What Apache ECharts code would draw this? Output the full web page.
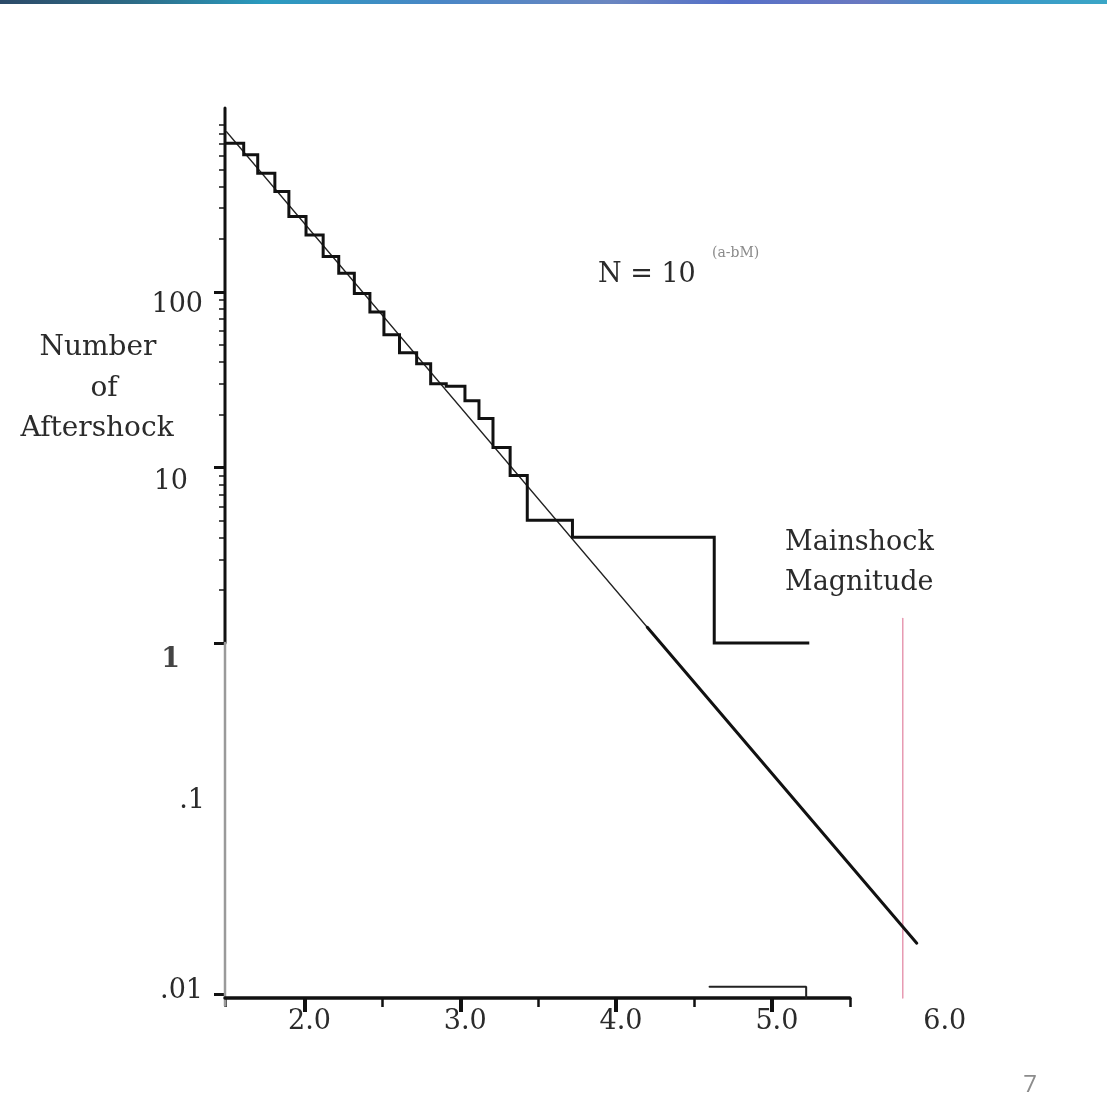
<!DOCTYPE html>
<html>
<head>
<meta charset="utf-8">
<script src="https://cdn.jsdelivr.net/npm/echarts@6/dist/echarts.min.js"></script>
<style>
  html, body { margin: 0; padding: 0; background: #ffffff; }
  #chart { width: 1107px; height: 1106px; }
</style>
</head>
<body>
<div id="chart"></div>
<script>
// Cumulative aftershock counts N(>=M): count[i] holds from binStart[i] to the next bin start
const binStart = [1.49, 1.61, 1.70, 1.81, 1.90, 2.01, 2.12, 2.22, 2.32, 2.42, 2.51,
                  2.61, 2.72, 2.81, 2.91, 3.03, 3.12, 3.21, 3.32, 3.43, 3.72, 4.63];
const counts   = [703, 604, 475, 373, 269, 211, 159, 128, 98, 77, 57,
                  45, 39, 30, 29, 24, 19, 13, 9, 5, 4, 1];
const lastMag = 5.24;

// Floor trace drawn along the .01 line
const floorMags = [4.60, 5.22, 5.22];
const floorCounts = [0.011, 0.011, 0.0095];

// Gutenberg-Richter fit, log10 N = a - bM: fitted part and extrapolated part
const fitMags = [1.50, 4.20];
const fitCounts = [818, 1.23];
const extrapMags = [4.20, 5.93];
const extrapCounts = [1.23, 0.0195];

// Mainshock magnitude marker
const mainshockMag = 5.84;
const mainshockTop = 1.38;

// Axis extents and ticks
const magMin = 1.49, magMax = 6.0, magAxisEnd = 5.5;
const nMin = 0.0095, nMax = 1117, nLowerAxisEnd = 0.0086;
const magLabels = [2, 3, 4, 5, 6];
const magMajorTicks = [2, 3, 4, 5];
const magMinorTicks = [1.49, 2.5, 3.5, 4.5, 5.5];
const nLabels = [0.01, 0.1, 1, 10, 100];
const nLabelText = ['.01', '.1', '1', '10', '100'];
const nMajorTicks = [0.01, 1, 10, 100];
const nMinorTicks = [];
[1, 10, 100].forEach(function (d) {
  for (let k = 2; k <= 9; k++) nMinorTicks.push(k * d);
});

const stepData = binStart.map(function (m, i) { return [m, counts[i]]; });
stepData.push([lastMag, counts[counts.length - 1]]);
const zip = function (xs, ys) { return xs.map(function (x, i) { return [x, ys[i]]; }); };

const serif = 'DejaVu Serif';
const ink = '#2b2b2b';

function seg(data, width, color) {
  return {
    type: 'line', data: data, symbol: 'none', clip: false, silent: true,
    xAxisIndex: 0, yAxisIndex: 0,
    lineStyle: { width: width, color: color, cap: 'round' }
  };
}

const chart = echarts.init(document.getElementById('chart'), null, { renderer: 'canvas' });

chart.setOption({
  animation: false,
  backgroundColor: '#ffffff',
  grid: { left: 225, right: 179.3, top: 108, bottom: 108 },
  xAxis: [
    {
      type: 'value', min: magMin, max: magMax, position: 'bottom',
      axisLine: { show: false }, splitLine: { show: false },
      axisTick: { show: true, customValues: magMajorTicks, length: 14, lineStyle: { width: 4, color: '#111' } },
      axisLabel: {
        customValues: magLabels, margin: 10,
        formatter: function (v) { return v >= 6 ? '{far|' + v.toFixed(1) + '}' : '{n|' + v.toFixed(1) + '}'; },
        rich: {
          n: { fontFamily: serif, fontSize: 27, color: ink, padding: [0, 0, 0, 10] },
          far: { fontFamily: serif, fontSize: 27, color: ink, padding: [0, 0, 0, 34] }
        }
      }
    },
    {
      type: 'value', min: magMin, max: magMax, position: 'bottom',
      axisLine: { show: false }, splitLine: { show: false },
      axisTick: { show: true, customValues: magMinorTicks, length: 9, lineStyle: { width: 2.5, color: '#111' } },
      axisLabel: { show: false }
    }
  ],
  yAxis: [
    {
      type: 'log', logBase: 10, min: nMin, max: nMax, position: 'left',
      axisLine: { show: false }, splitLine: { show: false },
      axisTick: { show: true, customValues: nMajorTicks, length: 11, lineStyle: { width: 3, color: '#111' } },
      axisLabel: {
        customValues: nLabels, margin: 20,
        formatter: function (v) {
          const e = Math.round(Math.log10(v));
          return '{k' + (e + 2) + '|' + nLabelText[e + 2] + '}';
        },
        rich: {
          k0: { fontFamily: serif, fontSize: 27, color: ink, padding: [0, 2, 6, 0] },
          k1: { fontFamily: serif, fontSize: 27, color: ink, padding: [0, 0, 36, 0] },
          k2: { fontFamily: serif, fontSize: 27, color: '#444', fontWeight: 'bold', padding: [34, 25, 0, 0] },
          k3: { fontFamily: serif, fontSize: 27, color: ink, padding: [28, 17, 0, 0] },
          k4: { fontFamily: serif, fontSize: 27, color: ink, padding: [26, 2, 0, 0] }
        }
      }
    },
    {
      type: 'log', logBase: 10, min: nMin, max: nMax, position: 'left',
      axisLine: { show: false }, splitLine: { show: false },
      axisTick: { show: true, customValues: nMinorTicks, length: 6, lineStyle: { width: 1.6, color: '#222' } },
      axisLabel: { show: false }
    }
  ],
  series: [
    // axis lines: heavy above N = 1, light grey below
    seg([[magMin, 1], [magMin, nMax]], 3, '#111'),
    seg([[magMin, nLowerAxisEnd], [magMin, 1]], 2.5, '#9a9a9a'),
    seg([[magMin, nMin], [magAxisEnd, nMin]], 3.5, '#111'),
    // mainshock marker
    seg([[mainshockMag, nMin], [mainshockMag, mainshockTop]], 1.5, '#e79ab2'),
    // fitted relation
    seg(zip(fitMags, fitCounts), 1.3, '#222'),
    seg(zip(extrapMags, extrapCounts), 3, '#111'),
    // observed cumulative counts
    {
      type: 'line', data: stepData, step: 'end', symbol: 'none', clip: false, silent: true,
      xAxisIndex: 0, yAxisIndex: 0,
      lineStyle: { width: 3, color: '#111', join: 'miter' }
    },
    seg(zip(floorMags, floorCounts), 2, '#222')
  ],
  graphic: [
    {
      type: 'rect', left: 0, top: 0, silent: true,
      shape: { width: 1107, height: 4 },
      style: {
        fill: new echarts.graphic.LinearGradient(0, 0, 1, 0, [
          { offset: 0.00, color: '#2c4a68' },
          { offset: 0.12, color: '#2d6b86' },
          { offset: 0.24, color: '#2a9bbf' },
          { offset: 0.40, color: '#4a86c6' },
          { offset: 0.55, color: '#6a86c0' },
          { offset: 0.66, color: '#5570c8' },
          { offset: 0.78, color: '#6a78c0' },
          { offset: 0.88, color: '#3a94c8' },
          { offset: 1.00, color: '#3aa6c6' }
        ])
      }
    },
    { type: 'text', x: 98, y: 348, silent: true,
      style: { text: 'Number', font: '28px "DejaVu Serif"', fill: ink, align: 'center', verticalAlign: 'middle' } },
    { type: 'text', x: 104, y: 389, silent: true,
      style: { text: 'of', font: '28px "DejaVu Serif"', fill: ink, align: 'center', verticalAlign: 'middle' } },
    { type: 'text', x: 97, y: 429, silent: true,
      style: { text: 'Aftershock', font: '28px "DejaVu Serif"', fill: ink, align: 'center', verticalAlign: 'middle' } },
    { type: 'text', x: 598, y: 275, silent: true,
      style: { text: 'N = 10', font: '27px "DejaVu Serif"', fill: ink, align: 'left', verticalAlign: 'middle' } },
    { type: 'text', x: 712, y: 253, silent: true,
      style: { text: '(a-bM)', font: '14px "DejaVu Serif"', fill: '#8a8a8a', align: 'left', verticalAlign: 'middle' } },
    { type: 'text', x: 785, y: 543, silent: true,
      style: { text: 'Mainshock', font: '27px "DejaVu Serif"', fill: ink, align: 'left', verticalAlign: 'middle' } },
    { type: 'text', x: 785, y: 583, silent: true,
      style: { text: 'Magnitude', font: '27px "DejaVu Serif"', fill: ink, align: 'left', verticalAlign: 'middle' } },
    { type: 'text', x: 1030, y: 1085, silent: true,
      style: { text: '7', font: '24px "Open Sans"', fill: '#8c8c8c', align: 'center', verticalAlign: 'middle' } }
  ]
});
</script>
</body>
</html>
